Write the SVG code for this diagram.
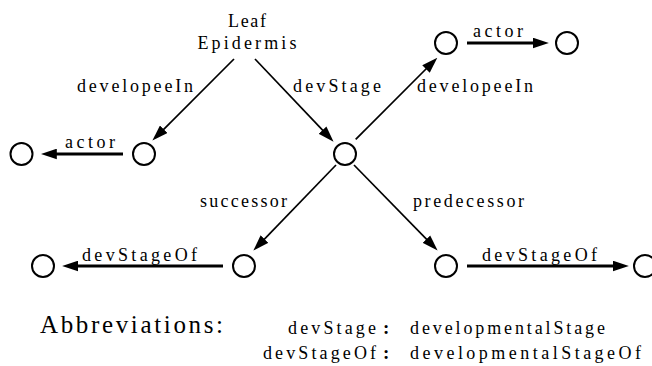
<svg xmlns="http://www.w3.org/2000/svg" width="652" height="366" viewBox="0 0 652 366">
<style>
  text { font-family: "Liberation Serif", "DejaVu Serif", serif; font-size: 18px; fill: #000; }
  .big { font-size: 25px; }
  .colon { font-weight: bold; font-size: 19px; }
  circle.n { fill: #fff; stroke: #000; stroke-width: 2; }
  .e { fill: none; stroke: #000; stroke-width: 1.7; marker-end: url(#ah); }
  .h { stroke-width: 3.2; }
</style>
<defs>
  <marker id="ah" markerUnits="userSpaceOnUse" markerWidth="16" markerHeight="11" viewBox="0 0 15 10" refX="2" refY="5" orient="auto">
    <path d="M0,0 L15,5 L0,10 z" fill="#000"/>
  </marker>
</defs>
<g id="connectors">
  <path class="e" d="M234,59 L162.2,130.8"/>
  <path class="e" d="M255,59 L324,131.6"/>
  <path class="e" d="M355.7,139.3 L427.5,67.5"/>
  <path class="e" d="M336,165 L263,240.6"/>
  <path class="e" d="M354,165 L427.9,240.7"/>
  <path class="e h" d="M123,154 L54.7,154"/>
  <path class="e h" d="M467,43 L535,43"/>
  <path class="e h" d="M223,266 L76,266"/>
  <path class="e h" d="M467,266 L615,266"/>
  <text x="77" y="92" textLength="116" lengthAdjust="spacing">developeeIn</text>
  <text x="293" y="92" textLength="88" lengthAdjust="spacing">devStage</text>
  <text x="417" y="92" textLength="116" lengthAdjust="spacing">developeeIn</text>
  <text x="473" y="37" textLength="50" lengthAdjust="spacing">actor</text>
  <text x="65" y="148" textLength="50" lengthAdjust="spacing">actor</text>
  <text x="200" y="207" textLength="87" lengthAdjust="spacing">successor</text>
  <text x="413" y="207" textLength="111" lengthAdjust="spacing">predecessor</text>
  <text x="82" y="261" textLength="115" lengthAdjust="spacing">devStageOf</text>
  <text x="482" y="261" textLength="115" lengthAdjust="spacing">devStageOf</text>
</g>
<g id="leaf-epidermis">
  <text x="247" y="27" text-anchor="middle" textLength="38" lengthAdjust="spacing">Leaf</text>
  <text x="247" y="49" text-anchor="middle" textLength="99" lengthAdjust="spacing">Epidermis</text>
</g>
<g id="n1"><circle class="n" cx="21.5" cy="154" r="11"/></g>
<g id="n2"><circle class="n" cx="144" cy="154" r="11"/></g>
<g id="n3"><circle class="n" cx="345" cy="154" r="11"/></g>
<g id="n4"><circle class="n" cx="446" cy="43" r="11"/></g>
<g id="n5"><circle class="n" cx="567" cy="43" r="11"/></g>
<g id="n6"><circle class="n" cx="43" cy="266" r="11"/></g>
<g id="n7"><circle class="n" cx="244" cy="266" r="11"/></g>
<g id="n8"><circle class="n" cx="446" cy="266" r="11"/></g>
<g id="n9"><circle class="n" cx="645" cy="266" r="11"/></g>
<g id="abbreviations">
  <text class="big" x="40" y="333" textLength="183" lengthAdjust="spacing">Abbreviations:</text>
  <text x="288" y="334" textLength="88" lengthAdjust="spacing">devStage</text>
  <text class="colon" x="383" y="334">:</text>
  <text x="410" y="334" textLength="195" lengthAdjust="spacing">developmentalStage</text>
  <text x="263" y="359" textLength="113" lengthAdjust="spacing">devStageOf</text>
  <text class="colon" x="383" y="359">:</text>
  <text x="410" y="359" textLength="231" lengthAdjust="spacing">developmentalStageOf</text>
</g>
</svg>
